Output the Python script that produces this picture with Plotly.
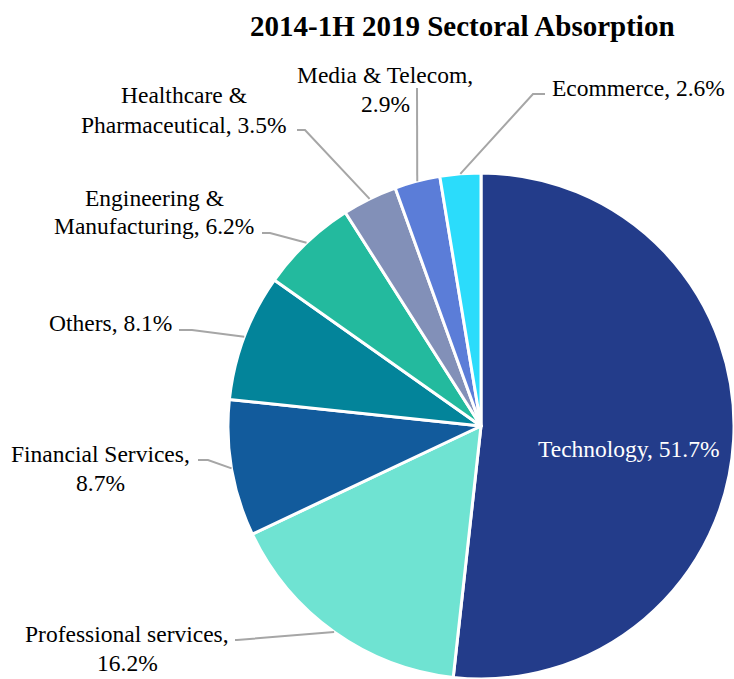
import math
import plotly.graph_objects as go

# ---- data ----
categories = ["Technology", "Professional services", "Financial Services", "Others",
              "Engineering & Manufacturing", "Healthcare & Pharmaceutical",
              "Media & Telecom", "Ecommerce"]
values = [51.7, 16.2, 8.7, 8.1, 6.2, 3.5, 2.9, 2.6]
label_lines = [
    ["Technology, 51.7%"],
    ["Professional services,", "16.2%"],
    ["Financial Services,", "8.7%"],
    ["Others, 8.1%"],
    ["Engineering &", "Manufacturing, 6.2%"],
    ["Healthcare &", "Pharmaceutical, 3.5%"],
    ["Media & Telecom,", "2.9%"],
    ["Ecommerce, 2.6%"],
]
colors = ["#233C8A", "#6FE3D2", "#125B9C", "#03849A", "#23BA9E", "#8290B8", "#5B7DD8", "#2BDCFB"]

W, H = 734, 679
FONT = "Liberation Serif, Times New Roman, serif"
LABEL_SIZE = 23.5
LINE_GAP = 29

# pie geometry (pixels)
CX, CY, R = 481, 426, 253

def px(x):
    return x / W

def py(y):
    return 1 - y / H

fig = go.Figure(go.Pie(
    labels=categories, values=values, sort=False, direction="clockwise", rotation=0,
    marker=dict(colors=colors, line=dict(color="white", width=3)),
    textinfo="none", hoverinfo="label+percent",
    domain=dict(x=[px(CX - R), px(CX + R)], y=[py(CY + R), py(CY - R)]),
    showlegend=False,
))

# label placements (layout, pixels): text center x, block center y, anchor, text colour
label_pos = [
    (629, 449, "center", "white"),
    (127, 648, "center", "black"),
    (100, 468, "center", "black"),
    (110, 323, "center", "black"),
    (154, 212, "center", "black"),
    (184, 110, "center", "black"),
    (385, 89, "center", "black"),
    (550, 88, "left", "black"),
]
# leader line: text-side end point and elbow (pixels); None for inside label
leader = [
    None,
    ((235, 640), (237, 640)),
    ((198, 460), (208, 460)),
    ((179, 330), (192, 330)),
    ((262, 233), (270, 233)),
    ((297, 130), (305, 130)),
    ((417, 88), (417, 88)),
    ((545, 94), (533, 94)),
]

total = sum(values)
cum = 0
annotations = []
shapes = []
for i, v in enumerate(values):
    mid = (cum + v / 2) / total * 2 * math.pi
    cum += v
    ex = CX + R * math.sin(mid)
    ey = CY - R * math.cos(mid)
    x, y, anchor, col = label_pos[i]
    n = len(label_lines[i])
    for k, line in enumerate(label_lines[i]):
        ly = y + (k - (n - 1) / 2) * LINE_GAP
        annotations.append(dict(
            x=px(x), y=py(ly), xref="paper", yref="paper", xanchor=anchor, yanchor="middle",
            text=line, showarrow=False, align="center",
            font=dict(family=FONT, size=LABEL_SIZE, color=col),
        ))
    if leader[i] is not None:
        (x0, y0), (x1, y1) = leader[i]
        path = f"M {px(x0)} {py(y0)} L {px(x1)} {py(y1)} L {px(ex)} {py(ey)}"
        shapes.append(dict(type="path", path=path, xref="paper", yref="paper",
                           line=dict(color="#A6A6A6", width=2)))

annotations.append(dict(
    x=px(462), y=py(26), xref="paper", yref="paper", xanchor="center", yanchor="middle",
    text="<b>2014-1H 2019 Sectoral Absorption</b>", showarrow=False,
    font=dict(family=FONT, size=29, color="black"),
))

fig.update_layout(
    width=W, height=H, margin=dict(l=0, r=0, t=0, b=0),
    paper_bgcolor="white", plot_bgcolor="white",
    annotations=annotations, shapes=shapes,
)

fig.write_html("out.html", config={"displayModeBar": False},
               post_script="document.body.style.margin='0px';")
